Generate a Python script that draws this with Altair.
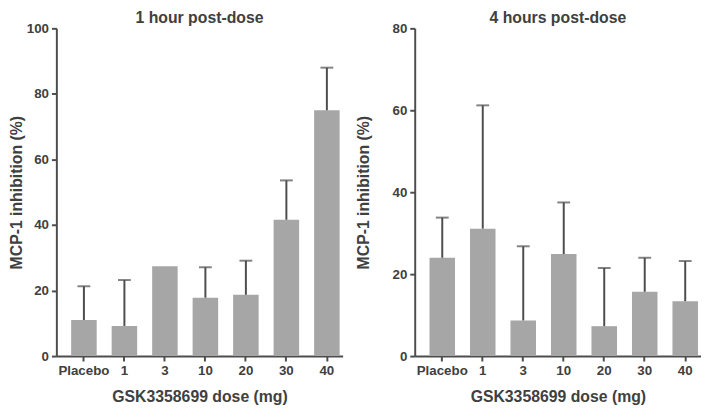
import altair as alt
import pandas as pd

doses = ["Placebo", "1", "3", "10", "20", "30", "40"]
mean_1h = [11.0, 9.2, 27.4, 17.8, 18.7, 41.6, 75.0]
upper_1h = [21.3, 23.2, None, 27.1, 29.1, 53.6, 88.0]
mean_4h = [24.0, 31.1, 8.7, 24.9, 7.3, 15.7, 13.4]
upper_4h = [33.8, 61.2, 26.8, 37.5, 21.5, 24.0, 23.2]

FONT = "Liberation Sans, Arial, sans-serif"
TXT = "#404040"
AX = "#4d4d4d"
BAR = "#a6a6a6"


def panel(means, uppers, title, ymax, ytitle_pad):
    df = pd.DataFrame({"dose": doses, "mean": means, "upper": uppers})
    x = alt.X(
        "dose:N",
        sort=doses,
        scale=alt.Scale(paddingInner=0.37, paddingOuter=0.22, align=0.83),
        axis=alt.Axis(title="GSK3358699 dose (mg)", labelAngle=0, labelOverlap=False),
    )
    y = alt.Y(
        "mean:Q",
        scale=alt.Scale(domain=[0, ymax], nice=False),
        axis=alt.Axis(values=list(range(0, ymax + 1, 20)), title="MCP-1 inhibition (%)",
                      titlePadding=ytitle_pad),
    )
    base = alt.Chart(df)
    bars = base.mark_bar(color=BAR).encode(x=x, y=y)
    err = base.transform_filter("datum.upper != null")
    rule = err.mark_rule(color=AX, strokeWidth=2).encode(x=x, y="mean:Q", y2="upper:Q")
    cap = err.mark_tick(color=AX, orient="horizontal", size=13, thickness=2).encode(x=x, y="upper:Q")
    return alt.layer(bars, rule, cap).properties(
        width=290, height=332,
        title=alt.TitleParams(title, font=FONT, fontSize=16, fontWeight="bold", color=TXT,
                              offset=-5),
    )


chart = alt.hconcat(
    panel(mean_1h, upper_1h, "1 hour post-dose", 100, 2),
    panel(mean_4h, upper_4h, "4 hours post-dose", 80, 21),
    spacing=12,
).configure_view(stroke=None).configure_axis(
    grid=False,
    domainColor=AX, domainWidth=2,
    tickColor=AX, tickWidth=2, tickSize=5,
    labelFont=FONT, labelFontSize=13.5, labelFontWeight="bold", labelColor=TXT,
    titleFont=FONT, titleFontSize=16, titleFontWeight="bold", titleColor=TXT,
    labelPadding=3,
).configure_axisX(titlePadding=12).properties(padding={"left": 0, "top": 0, "right": 0, "bottom": 0})

chart.save("out.html", embed_options={"renderer": "svg", "actions": False})
